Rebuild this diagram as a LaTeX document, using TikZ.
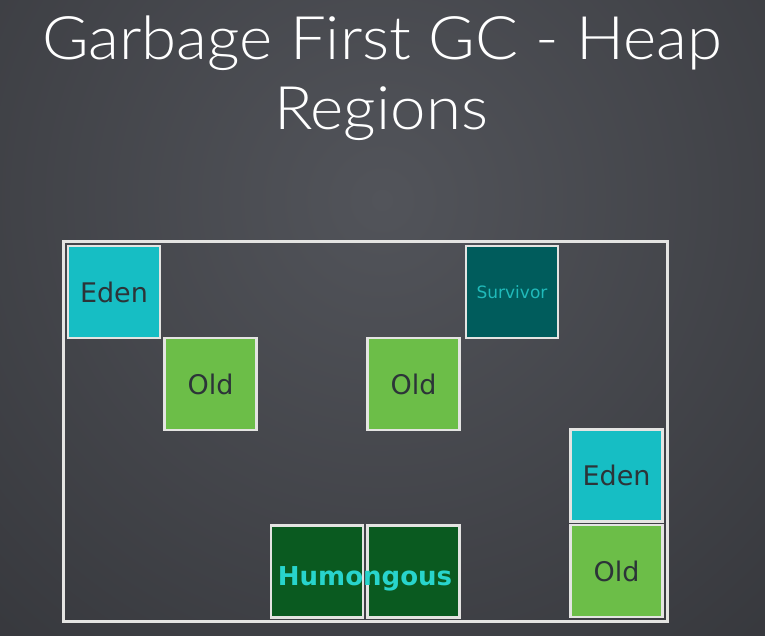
\documentclass[tikz,border=0pt]{standalone}
\usepackage{fontspec}
\setmainfont{Lato}
\newfontfamily\titlefont{Lato Light}[FakeStretch=1.06]
\newfontfamily\handfont{DejaVu Sans}
\definecolor{bgdark}{RGB}{36,37,41}
\definecolor{bglight}{RGB}{82,84,90}
\definecolor{chalk}{RGB}{228,228,226}
\definecolor{edenc}{RGB}{22,190,196}
\definecolor{oldc}{RGB}{108,190,72}
\definecolor{survc}{RGB}{0,92,92}
\definecolor{humc}{RGB}{10,90,32}
\definecolor{inkc}{RGB}{44,52,56}
\definecolor{survtext}{RGB}{32,186,186}
\definecolor{humtext}{RGB}{40,212,204}
\tikzset{
  region/.style={draw=chalk, line width=2.5pt, minimum size=92pt, inner sep=0pt, font=\handfont\fontsize{27}{30}\selectfont},
  eden/.style={region, fill=edenc, text=inkc},
  old/.style={region, fill=oldc, text=inkc},
  surv/.style={region, fill=survc, text=survtext, font=\handfont\fontsize{17}{20}\selectfont},
  hum/.style={region, fill=humc},
  titletext/.style={text=white, font=\titlefont\fontsize{60}{70}\selectfont, inner sep=0pt, anchor=base}
}
\begin{document}
\begin{tikzpicture}[x=1pt,y=-1pt]
\useasboundingbox (0,0) rectangle (765,636);
\fill[bgdark] (0,0) rectangle (765,636);
\begin{scope}
\clip (0,0) rectangle (765,636);
\shade[inner color=bglight, outer color=bgdark] (382,200) circle (1000);
\end{scope}
\node[titletext] (t1) at (382,60) {Garbage First GC - Heap};
\node[titletext] (t2) at (381,130) {Regions};
\node[draw=chalk, line width=3pt, minimum width=604pt, minimum height=379pt, inner sep=0pt] (heap) at (365,431.5) {};
\node[eden] (e1) at (114,292) {Eden};
\node[old] (o1) at (210.5,384) {Old};
\node[surv] (s1) at (512,292) {Survivor};
\node[old] (o2) at (413.5,384) {Old};
\node[eden] (e2) at (616.5,475.5) {Eden};
\node[old] (o3) at (616.5,571) {Old};
\node[hum] (h1) at (317,571.5) {};
\node[hum] (h2) at (413.5,571.5) {};
\node[text=humtext, font=\handfont\bfseries\fontsize{26}{30}\selectfont, inner sep=0pt, anchor=base] (hl) at (365,585) {Humongous};
\end{tikzpicture}
\end{document}
